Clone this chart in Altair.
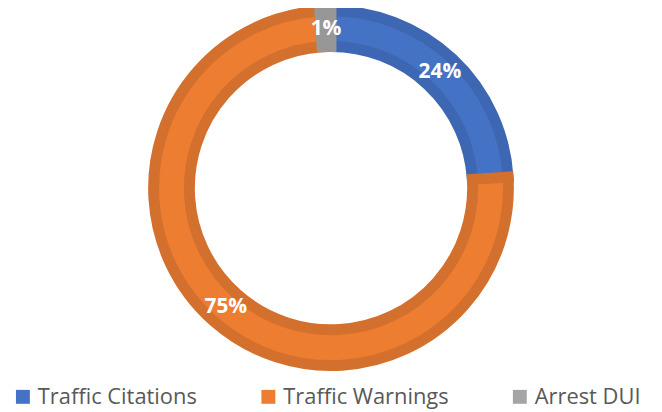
import altair as alt
import pandas as pd

categories = ["Traffic Citations", "Traffic Warnings", "Arrest DUI"]
values = [24, 75, 1]
labels = ["24%", "75%", "1%"]
fill_colors = ["#4472C4", "#ED7D31", "#A5A5A5"]
stroke_colors = ["#3E67B3", "#D4702D", "#979797"]

df = pd.DataFrame({
    "category": categories,
    "value": values,
    "label": labels,
    "order": list(range(len(categories))),
})

base = alt.Chart(df).encode(
    theta=alt.Theta("value:Q", stack=True),
    order=alt.Order("order:Q"),
)

arc = base.mark_arc(outerRadius=178.5, innerRadius=142.5, strokeWidth=11, strokeJoin="miter").encode(
    fill=alt.Fill(
        "category:N",
        scale=alt.Scale(domain=categories, range=fill_colors),
        legend=alt.Legend(
            title=None,
            orient="none",
            direction="horizontal",
            legendX=4,
            legendY=379,
            symbolType="square",
            symbolSize=196,
            symbolStrokeWidth=0,
            labelFont="Open Sans",
            labelFontSize=22,
            labelColor="#595959",
            labelOffset=4,
            columnPadding=60,
            labelLimit=400,
        ),
    ),
    stroke=alt.Stroke("category:N", scale=alt.Scale(domain=categories, range=stroke_colors), legend=None),
)

text = base.mark_text(radius=160, font="Open Sans", fontSize=21, fontWeight="bold", color="white").encode(
    text="label:N"
)

chart = (arc + text).properties(
    width=650,
    height=360,
    padding={"left": 0, "top": 0, "right": 0, "bottom": 44},
    autosize=alt.AutoSizeParams(type="none"),
).configure_view(stroke=None)

chart.save("out.html", embed_options={"renderer": "svg", "actions": False})
